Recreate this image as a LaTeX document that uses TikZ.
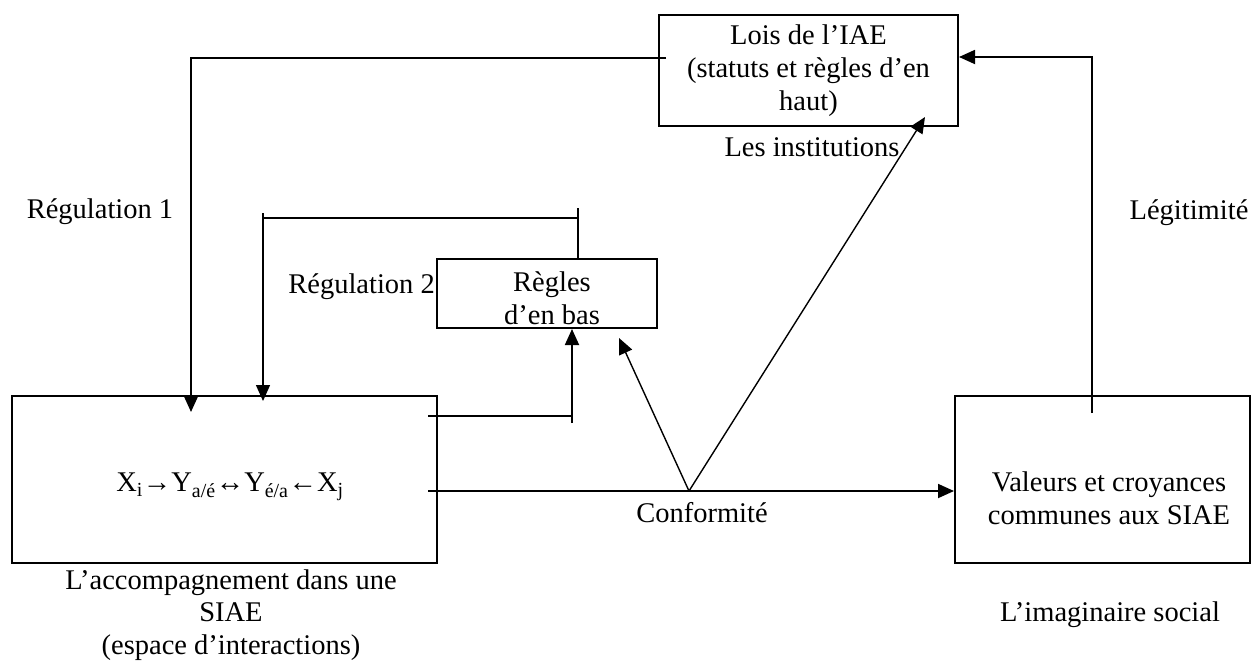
\documentclass[tikz,border=0pt]{standalone}
\usepackage{fontspec}
\setmainfont{Liberation Serif}
\usetikzlibrary{arrows.meta,calc}
\begin{document}
\begin{tikzpicture}[x=1pt,y=-1pt,
  every node/.style={font=\fontsize{28.5}{33}\selectfont, inner sep=0pt, align=center},
  boxst/.style={draw, line width=2pt, minimum width=#1},
  lnk/.style={line width=1.8pt},
  thin lnk/.style={line width=1.4pt},
  tip/.style={-{Triangle[length=16pt,width=14pt]}}]
\useasboundingbox (0,0) rectangle (1253,662);
\fill[white] (0,0) rectangle (1253,662);
% boxes
\node[boxst=299pt, minimum height=111pt] (lois) at (808.5,70.5) {Lois de l'IAE\\(statuts et règles d'en\\haut)};
\node[boxst=220pt, minimum height=69pt] (regles) at (547,293.5) {};
\node at (552,298) (reglest) {Règles\\d'en bas};
\node[boxst=425pt, minimum height=167pt] (acc) at (224.5,479.5) {};
\node (accf) at (230,487) {X\textsubscript{i}→Y\textsubscript{a/é}↔Y\textsubscript{é/a}←X\textsubscript{j}};
\node[boxst=295pt, minimum height=167pt] (val) at (1102.5,479.5) {};
\node (valt) at (1109,498.5) {Valeurs et croyances\\communes aux SIAE};
% labels
\node (inst) at (812,147) {Les institutions};
\node (reg1) at (100,212) {Régulation 1};
\node (legit) at (1189,213) {Légitimité};
\node[anchor=east] (reg2) at (435,287) {Régulation 2};
\node (conf) at (702,513) {Conformité};
\node[font=\fontsize{28.5}{32.5}\selectfont] (accl) at (231,615) {L'accompagnement dans une\\SIAE\\(espace d'interactions)};
\node (imag) at (1110,615) {L'imaginaire social};
% coordinates
\coordinate (v) at (689,491);
\coordinate (r1s) at (666,58);
\coordinate (r1c) at (191,58);
\coordinate (r1t) at (191,412);
\coordinate (r2a) at (578,208);
\coordinate (r2b) at (578,218);
\coordinate (r2c) at (263,218);
\coordinate (r2d) at (263,213);
\coordinate (r2t) at (263,401);
\coordinate (u1) at (428,416);
\coordinate (u2) at (572,416);
\coordinate (u3) at (572,423);
\coordinate (h1) at (428,491);
\coordinate (lgs) at (1092,413);
\coordinate (lgc) at (1092,57);
% connectors
\draw[lnk,tip] (r1s) -- (r1c) -- (r1t);
\draw[thin lnk] (r2a) -- (r2a |- regles.north);
\draw[thin lnk] (r2b) -- (r2c);
\draw[thin lnk,tip] (r2d) -- (r2t);
\draw[thin lnk] (u1) -- (u2);
\draw[lnk,tip] (u3) -- (u3 |- regles.south);
\draw[lnk,tip] (h1) -- (h1 -| val.west);
\draw[thin lnk,tip] (v) -- (619,338);
\draw[thin lnk,tip] (v) -- (925,117);
\draw[lnk,tip] (lgs) -- (lgc) -- (lgc -| lois.east);
\end{tikzpicture}
\end{document}
